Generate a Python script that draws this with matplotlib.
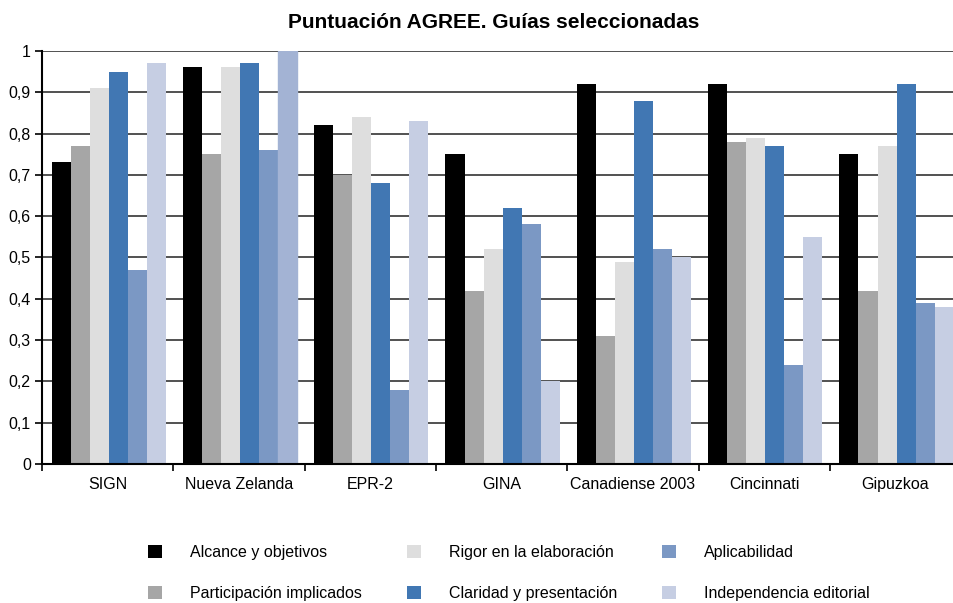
import matplotlib.pyplot as plt
import numpy as np

plt.rcParams['font.family'] = ['Liberation Sans', 'DejaVu Sans']

guias = ['SIGN', 'Nueva Zelanda', 'EPR-2', 'GINA', 'Canadiense 2003', 'Cincinnati', 'Gipuzkoa']
series = ['Alcance y objetivos', 'Participación implicados', 'Rigor en la elaboración',
          'Claridad y presentación', 'Aplicabilidad', 'Independencia editorial']

alcance = [0.73, 0.96, 0.82, 0.75, 0.92, 0.92, 0.75]
participacion = [0.77, 0.75, 0.70, 0.42, 0.31, 0.78, 0.42]
rigor = [0.91, 0.96, 0.84, 0.52, 0.49, 0.79, 0.77]
claridad = [0.95, 0.97, 0.68, 0.62, 0.88, 0.77, 0.92]
aplicabilidad = [0.47, 0.76, 0.18, 0.58, 0.52, 0.24, 0.39]
independencia = [0.97, 1.00, 0.83, 0.20, 0.50, 0.55, 0.38]

valores = [alcance, participacion, rigor, claridad, aplicabilidad, independencia]
colores = ['#000000', '#a6a6a6', '#dedede', '#4177b3', '#7b98c4', '#c6cee3']

fig = plt.figure(figsize=(9.54, 6.03), dpi=100)
ax = fig.add_axes([0.044, 0.2305, 0.9635, 0.685])

x = np.arange(len(guias))
w = 0.145
offs = (np.arange(6) - 2.5) * w + 0.008
for i in range(6):
    bars = ax.bar(x + offs[i], valores[i], w, color=colores[i], label=series[i], zorder=2)
# destacado en Nueva Zelanda
bars[1].set_color('#a3b3d4')

ax.set_xlim(-0.5, len(guias) - 0.5)
ax.set_ylim(0, 1)
ax.set_yticks(np.arange(0, 1.01, 0.1))
ax.set_yticklabels(['0'] + ['0,%d' % i for i in range(1, 10)] + ['1'], fontsize=11.5)
ax.yaxis.grid(True, color='#333333', linewidth=1.2, zorder=0)
ax.set_axisbelow(True)

ax.set_xticks(x)
ax.set_xticklabels(guias, fontsize=11.5)
ax.tick_params(axis='x', length=0, pad=9)
ax.set_xticks(np.arange(-0.5, len(guias), 1), minor=True)
ax.tick_params(axis='x', which='minor', length=5, width=1.2)
ax.tick_params(axis='y', length=5, width=1.2, pad=3)

for s in ['top', 'right']:
    ax.spines[s].set_visible(False)
ax.spines['left'].set_linewidth(1.5)
ax.spines['bottom'].set_linewidth(1.5)

fig.text(0.518, 0.963, 'Puntuación AGREE. Guías seleccionadas', ha='center', va='center',
         fontsize=15, fontweight='bold')

fig.legend(loc='center', bbox_to_anchor=(0.5335, 0.05), ncol=3, frameon=False, fontsize=11.5,
           handlelength=0.875, handleheight=0.875, handletextpad=1.75, columnspacing=2.8,
           labelspacing=1.65)

fig.savefig('out.png', dpi=100)
